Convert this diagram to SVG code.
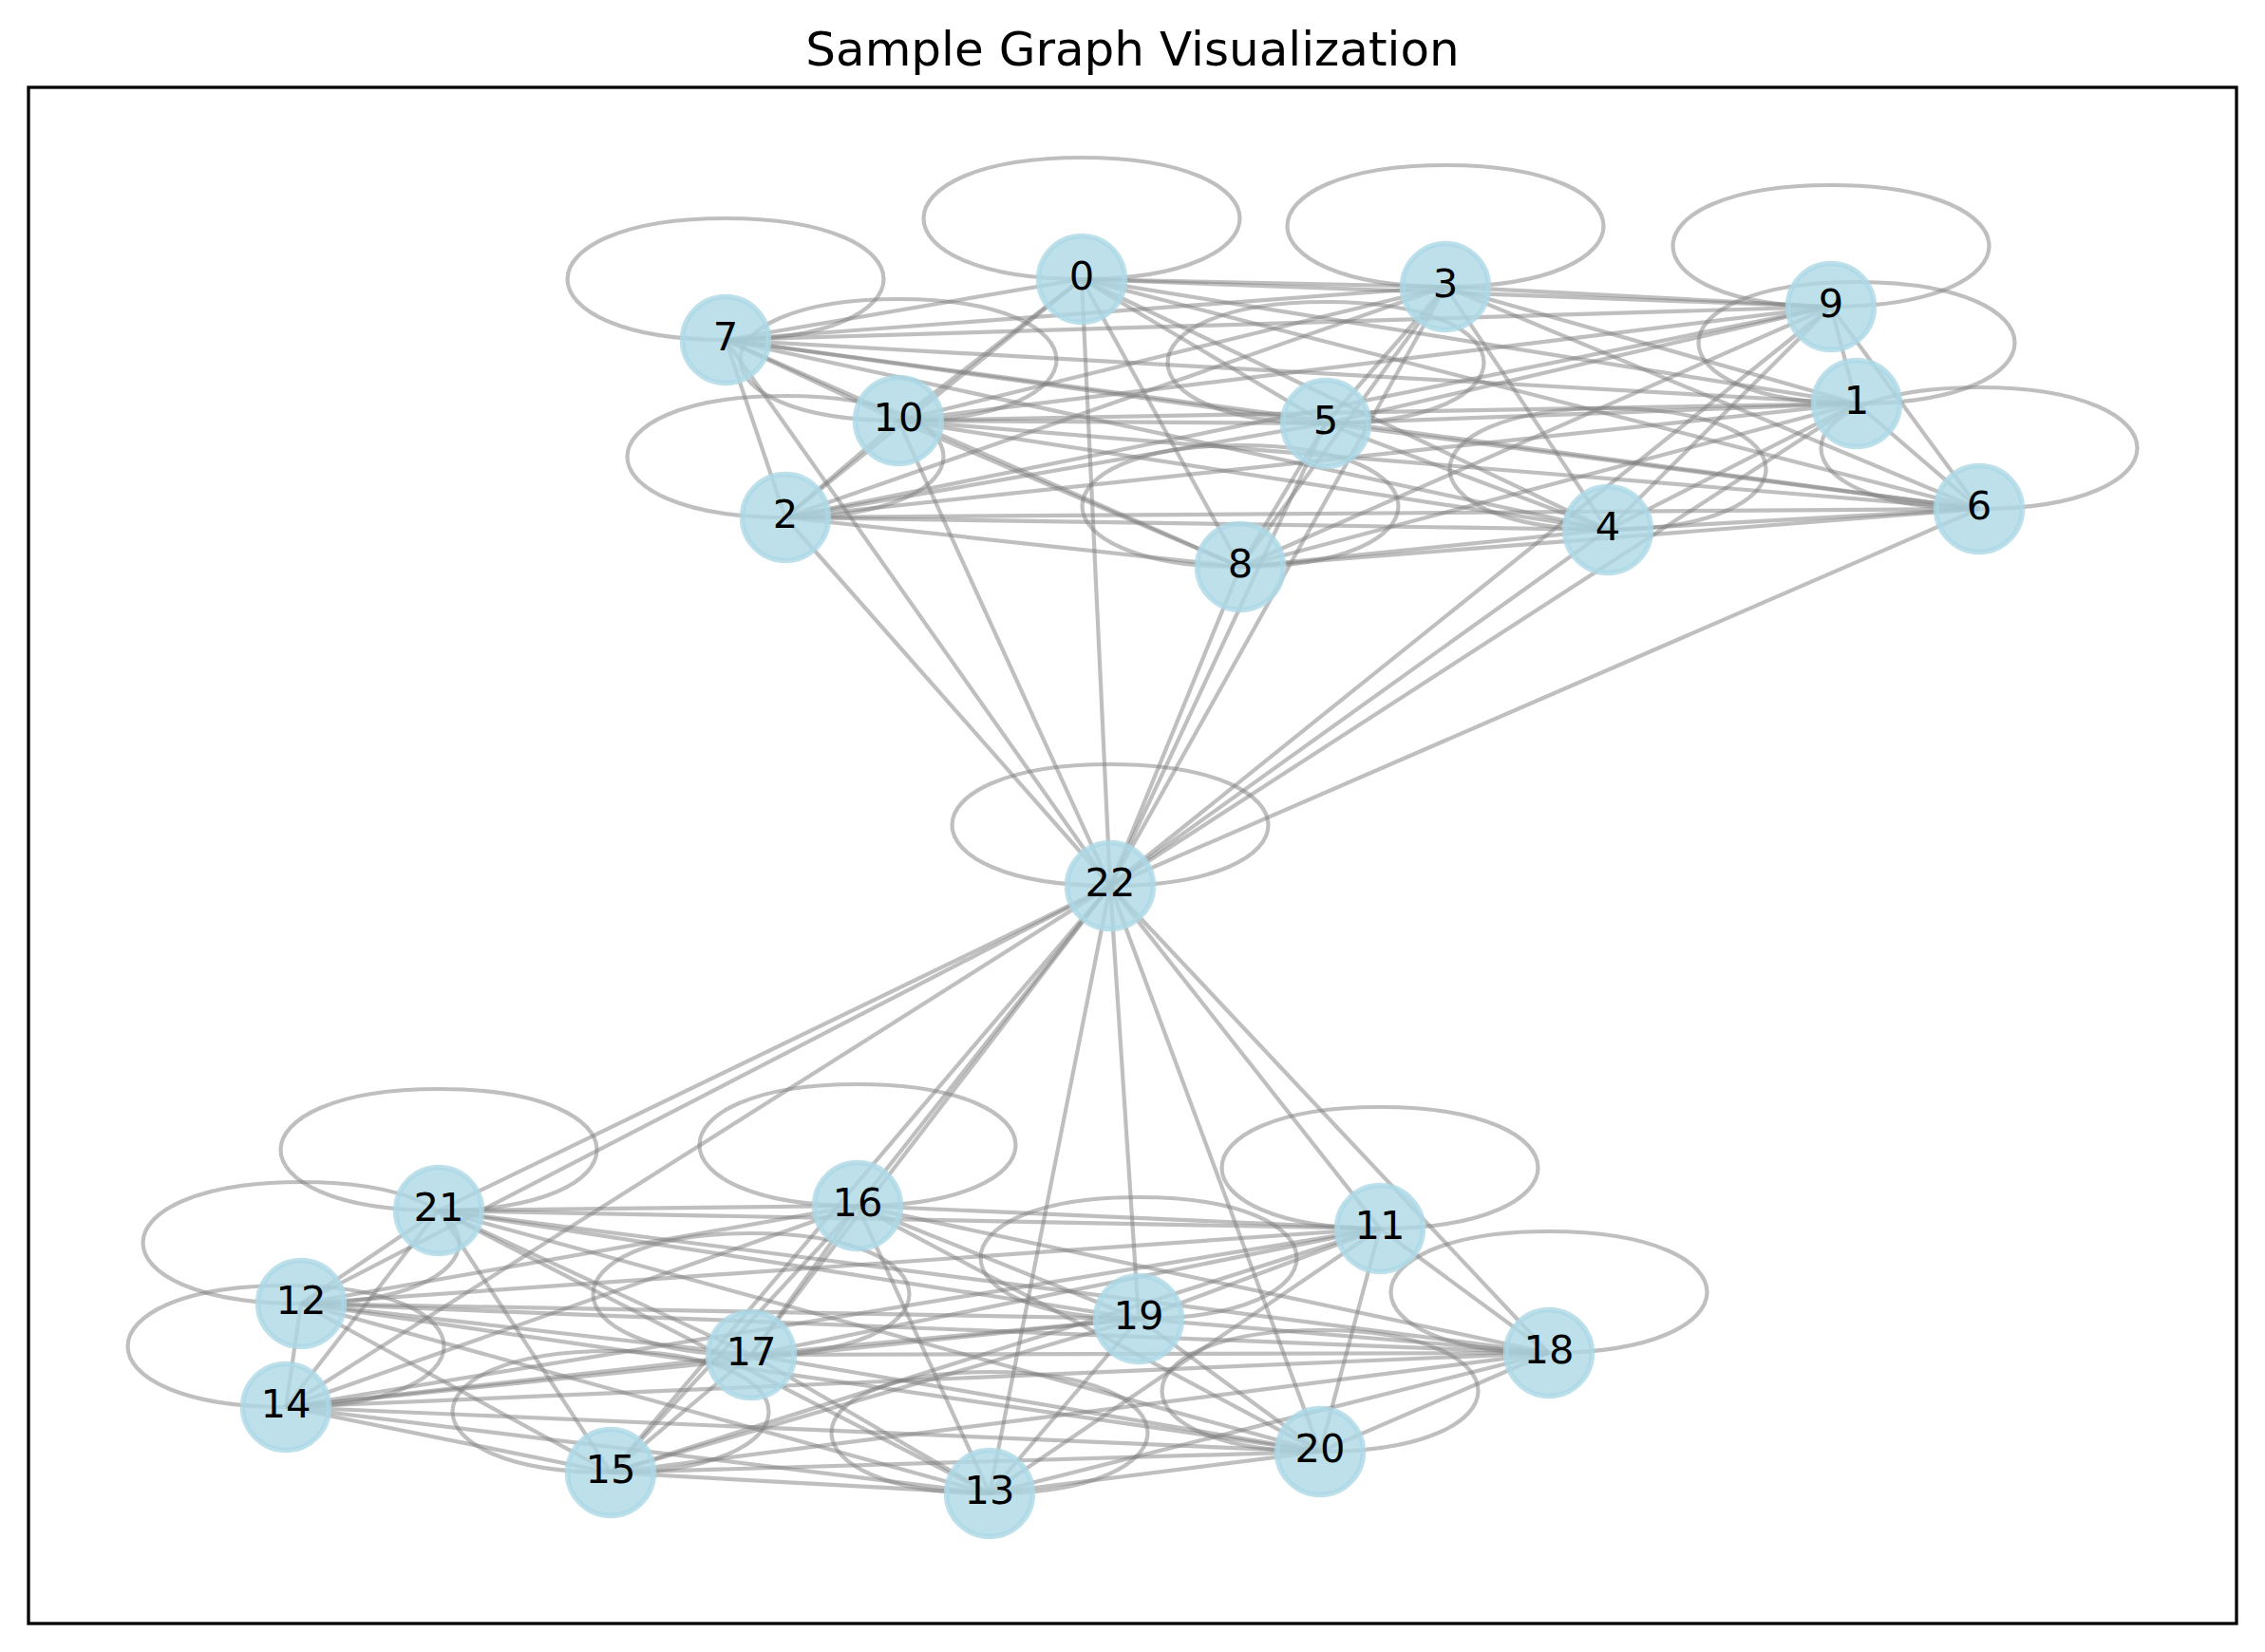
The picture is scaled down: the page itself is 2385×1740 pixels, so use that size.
<svg xmlns="http://www.w3.org/2000/svg" width="2385" height="1740" viewBox="0 0 2385 1740">
<style>
.e line{stroke:#808080;stroke-opacity:0.5;stroke-width:4.2;fill:none}
.lp path{stroke:#808080;stroke-opacity:0.5;stroke-width:4.2;fill:none}
.n circle{fill:#ADD8E6;fill-opacity:0.8;stroke:#ADD8E6;stroke-opacity:0.8;stroke-width:5.5}
.n text{font-family:"DejaVu Sans",sans-serif;font-size:41.7px;text-anchor:middle;fill:#000}
.title{font-family:"DejaVu Sans",sans-serif;font-size:50px;text-anchor:middle;fill:#000}
</style>
<rect x="0" y="0" width="2385" height="1740" fill="#fff"/>
<text class="title" x="1192.5" y="69">Sample Graph Visualization</text>
<g id="connectors">
<g class="e">
<line x1="1139" y1="294" x2="1955" y2="425"/>
<line x1="1139" y1="294" x2="827" y2="545"/>
<line x1="1139" y1="294" x2="1522" y2="302"/>
<line x1="1139" y1="294" x2="1693" y2="558"/>
<line x1="1139" y1="294" x2="1396" y2="446"/>
<line x1="1139" y1="294" x2="2084" y2="536"/>
<line x1="1139" y1="294" x2="764" y2="358"/>
<line x1="1139" y1="294" x2="1306" y2="597"/>
<line x1="1139" y1="294" x2="1928" y2="323"/>
<line x1="1139" y1="294" x2="946" y2="443"/>
<line x1="1955" y1="425" x2="827" y2="545"/>
<line x1="1955" y1="425" x2="1522" y2="302"/>
<line x1="1955" y1="425" x2="1693" y2="558"/>
<line x1="1955" y1="425" x2="1396" y2="446"/>
<line x1="1955" y1="425" x2="2084" y2="536"/>
<line x1="1955" y1="425" x2="764" y2="358"/>
<line x1="1955" y1="425" x2="1306" y2="597"/>
<line x1="1955" y1="425" x2="1928" y2="323"/>
<line x1="1955" y1="425" x2="946" y2="443"/>
<line x1="827" y1="545" x2="1522" y2="302"/>
<line x1="827" y1="545" x2="1693" y2="558"/>
<line x1="827" y1="545" x2="1396" y2="446"/>
<line x1="827" y1="545" x2="2084" y2="536"/>
<line x1="827" y1="545" x2="764" y2="358"/>
<line x1="827" y1="545" x2="1306" y2="597"/>
<line x1="827" y1="545" x2="1928" y2="323"/>
<line x1="827" y1="545" x2="946" y2="443"/>
<line x1="1522" y1="302" x2="1693" y2="558"/>
<line x1="1522" y1="302" x2="1396" y2="446"/>
<line x1="1522" y1="302" x2="2084" y2="536"/>
<line x1="1522" y1="302" x2="764" y2="358"/>
<line x1="1522" y1="302" x2="1306" y2="597"/>
<line x1="1522" y1="302" x2="1928" y2="323"/>
<line x1="1522" y1="302" x2="946" y2="443"/>
<line x1="1693" y1="558" x2="1396" y2="446"/>
<line x1="1693" y1="558" x2="2084" y2="536"/>
<line x1="1693" y1="558" x2="764" y2="358"/>
<line x1="1693" y1="558" x2="1306" y2="597"/>
<line x1="1693" y1="558" x2="1928" y2="323"/>
<line x1="1693" y1="558" x2="946" y2="443"/>
<line x1="1396" y1="446" x2="2084" y2="536"/>
<line x1="1396" y1="446" x2="764" y2="358"/>
<line x1="1396" y1="446" x2="1306" y2="597"/>
<line x1="1396" y1="446" x2="1928" y2="323"/>
<line x1="1396" y1="446" x2="946" y2="443"/>
<line x1="2084" y1="536" x2="764" y2="358"/>
<line x1="2084" y1="536" x2="1306" y2="597"/>
<line x1="2084" y1="536" x2="1928" y2="323"/>
<line x1="2084" y1="536" x2="946" y2="443"/>
<line x1="764" y1="358" x2="1306" y2="597"/>
<line x1="764" y1="358" x2="1928" y2="323"/>
<line x1="764" y1="358" x2="946" y2="443"/>
<line x1="1306" y1="597" x2="1928" y2="323"/>
<line x1="1306" y1="597" x2="946" y2="443"/>
<line x1="1928" y1="323" x2="946" y2="443"/>
<line x1="1453" y1="1294" x2="317" y2="1373"/>
<line x1="1453" y1="1294" x2="1042" y2="1573"/>
<line x1="1453" y1="1294" x2="301" y2="1482"/>
<line x1="1453" y1="1294" x2="643" y2="1551"/>
<line x1="1453" y1="1294" x2="903" y2="1270"/>
<line x1="1453" y1="1294" x2="791" y2="1427"/>
<line x1="1453" y1="1294" x2="1631" y2="1425"/>
<line x1="1453" y1="1294" x2="1199" y2="1389"/>
<line x1="1453" y1="1294" x2="1390" y2="1529"/>
<line x1="1453" y1="1294" x2="462" y2="1275"/>
<line x1="317" y1="1373" x2="1042" y2="1573"/>
<line x1="317" y1="1373" x2="301" y2="1482"/>
<line x1="317" y1="1373" x2="643" y2="1551"/>
<line x1="317" y1="1373" x2="903" y2="1270"/>
<line x1="317" y1="1373" x2="791" y2="1427"/>
<line x1="317" y1="1373" x2="1631" y2="1425"/>
<line x1="317" y1="1373" x2="1199" y2="1389"/>
<line x1="317" y1="1373" x2="1390" y2="1529"/>
<line x1="317" y1="1373" x2="462" y2="1275"/>
<line x1="1042" y1="1573" x2="301" y2="1482"/>
<line x1="1042" y1="1573" x2="643" y2="1551"/>
<line x1="1042" y1="1573" x2="903" y2="1270"/>
<line x1="1042" y1="1573" x2="791" y2="1427"/>
<line x1="1042" y1="1573" x2="1631" y2="1425"/>
<line x1="1042" y1="1573" x2="1199" y2="1389"/>
<line x1="1042" y1="1573" x2="1390" y2="1529"/>
<line x1="1042" y1="1573" x2="462" y2="1275"/>
<line x1="301" y1="1482" x2="643" y2="1551"/>
<line x1="301" y1="1482" x2="903" y2="1270"/>
<line x1="301" y1="1482" x2="791" y2="1427"/>
<line x1="301" y1="1482" x2="1631" y2="1425"/>
<line x1="301" y1="1482" x2="1199" y2="1389"/>
<line x1="301" y1="1482" x2="1390" y2="1529"/>
<line x1="301" y1="1482" x2="462" y2="1275"/>
<line x1="643" y1="1551" x2="903" y2="1270"/>
<line x1="643" y1="1551" x2="791" y2="1427"/>
<line x1="643" y1="1551" x2="1631" y2="1425"/>
<line x1="643" y1="1551" x2="1199" y2="1389"/>
<line x1="643" y1="1551" x2="1390" y2="1529"/>
<line x1="643" y1="1551" x2="462" y2="1275"/>
<line x1="903" y1="1270" x2="791" y2="1427"/>
<line x1="903" y1="1270" x2="1631" y2="1425"/>
<line x1="903" y1="1270" x2="1199" y2="1389"/>
<line x1="903" y1="1270" x2="1390" y2="1529"/>
<line x1="903" y1="1270" x2="462" y2="1275"/>
<line x1="791" y1="1427" x2="1631" y2="1425"/>
<line x1="791" y1="1427" x2="1199" y2="1389"/>
<line x1="791" y1="1427" x2="1390" y2="1529"/>
<line x1="791" y1="1427" x2="462" y2="1275"/>
<line x1="1631" y1="1425" x2="1199" y2="1389"/>
<line x1="1631" y1="1425" x2="1390" y2="1529"/>
<line x1="1631" y1="1425" x2="462" y2="1275"/>
<line x1="1199" y1="1389" x2="1390" y2="1529"/>
<line x1="1199" y1="1389" x2="462" y2="1275"/>
<line x1="1390" y1="1529" x2="462" y2="1275"/>
<line x1="1169" y1="933" x2="1139" y2="294"/>
<line x1="1169" y1="933" x2="1955" y2="425"/>
<line x1="1169" y1="933" x2="827" y2="545"/>
<line x1="1169" y1="933" x2="1522" y2="302"/>
<line x1="1169" y1="933" x2="1693" y2="558"/>
<line x1="1169" y1="933" x2="1396" y2="446"/>
<line x1="1169" y1="933" x2="2084" y2="536"/>
<line x1="1169" y1="933" x2="764" y2="358"/>
<line x1="1169" y1="933" x2="1306" y2="597"/>
<line x1="1169" y1="933" x2="1928" y2="323"/>
<line x1="1169" y1="933" x2="946" y2="443"/>
<line x1="1169" y1="933" x2="1453" y2="1294"/>
<line x1="1169" y1="933" x2="317" y2="1373"/>
<line x1="1169" y1="933" x2="1042" y2="1573"/>
<line x1="1169" y1="933" x2="301" y2="1482"/>
<line x1="1169" y1="933" x2="643" y2="1551"/>
<line x1="1169" y1="933" x2="903" y2="1270"/>
<line x1="1169" y1="933" x2="791" y2="1427"/>
<line x1="1169" y1="933" x2="1631" y2="1425"/>
<line x1="1169" y1="933" x2="1199" y2="1389"/>
<line x1="1169" y1="933" x2="1390" y2="1529"/>
<line x1="1169" y1="933" x2="462" y2="1275"/>
</g>
<g class="lp">
<path d="M1139,166 C1361,166 1361,294 1139,294 C917,294 917,166 1139,166"/>
<path d="M1955,297 C2177,297 2177,425 1955,425 C1733,425 1733,297 1955,297"/>
<path d="M827,417 C1049,417 1049,545 827,545 C605,545 605,417 827,417"/>
<path d="M1522,174 C1744,174 1744,302 1522,302 C1300,302 1300,174 1522,174"/>
<path d="M1693,430 C1915,430 1915,558 1693,558 C1471,558 1471,430 1693,430"/>
<path d="M1396,318 C1618,318 1618,446 1396,446 C1174,446 1174,318 1396,318"/>
<path d="M2084,408 C2306,408 2306,536 2084,536 C1862,536 1862,408 2084,408"/>
<path d="M764,230 C986,230 986,358 764,358 C542,358 542,230 764,230"/>
<path d="M1306,469 C1528,469 1528,597 1306,597 C1084,597 1084,469 1306,469"/>
<path d="M1928,195 C2150,195 2150,323 1928,323 C1706,323 1706,195 1928,195"/>
<path d="M946,315 C1168,315 1168,443 946,443 C724,443 724,315 946,315"/>
<path d="M1453,1166 C1675,1166 1675,1294 1453,1294 C1231,1294 1231,1166 1453,1166"/>
<path d="M317,1245 C539,1245 539,1373 317,1373 C95,1373 95,1245 317,1245"/>
<path d="M1042,1445 C1264,1445 1264,1573 1042,1573 C820,1573 820,1445 1042,1445"/>
<path d="M301,1354 C523,1354 523,1482 301,1482 C79,1482 79,1354 301,1354"/>
<path d="M643,1423 C865,1423 865,1551 643,1551 C421,1551 421,1423 643,1423"/>
<path d="M903,1142 C1125,1142 1125,1270 903,1270 C681,1270 681,1142 903,1142"/>
<path d="M791,1299 C1013,1299 1013,1427 791,1427 C569,1427 569,1299 791,1299"/>
<path d="M1631,1297 C1853,1297 1853,1425 1631,1425 C1409,1425 1409,1297 1631,1297"/>
<path d="M1199,1261 C1421,1261 1421,1389 1199,1389 C977,1389 977,1261 1199,1261"/>
<path d="M1390,1401 C1612,1401 1612,1529 1390,1529 C1168,1529 1168,1401 1390,1401"/>
<path d="M462,1147 C684,1147 684,1275 462,1275 C240,1275 240,1147 462,1147"/>
<path d="M1169,805 C1391,805 1391,933 1169,933 C947,933 947,805 1169,805"/>
</g>
</g>
<g id="node-0" class="n"><circle cx="1139" cy="294" r="45.5"/><text x="1139" y="305">0</text></g>
<g id="node-1" class="n"><circle cx="1955" cy="425" r="45.5"/><text x="1955" y="436">1</text></g>
<g id="node-2" class="n"><circle cx="827" cy="545" r="45.5"/><text x="827" y="556">2</text></g>
<g id="node-3" class="n"><circle cx="1522" cy="302" r="45.5"/><text x="1522" y="313">3</text></g>
<g id="node-4" class="n"><circle cx="1693" cy="558" r="45.5"/><text x="1693" y="569">4</text></g>
<g id="node-5" class="n"><circle cx="1396" cy="446" r="45.5"/><text x="1396" y="457">5</text></g>
<g id="node-6" class="n"><circle cx="2084" cy="536" r="45.5"/><text x="2084" y="547">6</text></g>
<g id="node-7" class="n"><circle cx="764" cy="358" r="45.5"/><text x="764" y="369">7</text></g>
<g id="node-8" class="n"><circle cx="1306" cy="597" r="45.5"/><text x="1306" y="608">8</text></g>
<g id="node-9" class="n"><circle cx="1928" cy="323" r="45.5"/><text x="1928" y="334">9</text></g>
<g id="node-10" class="n"><circle cx="946" cy="443" r="45.5"/><text x="946" y="454">10</text></g>
<g id="node-11" class="n"><circle cx="1453" cy="1294" r="45.5"/><text x="1453" y="1305">11</text></g>
<g id="node-12" class="n"><circle cx="317" cy="1373" r="45.5"/><text x="317" y="1384">12</text></g>
<g id="node-13" class="n"><circle cx="1042" cy="1573" r="45.5"/><text x="1042" y="1584">13</text></g>
<g id="node-14" class="n"><circle cx="301" cy="1482" r="45.5"/><text x="301" y="1493">14</text></g>
<g id="node-15" class="n"><circle cx="643" cy="1551" r="45.5"/><text x="643" y="1562">15</text></g>
<g id="node-16" class="n"><circle cx="903" cy="1270" r="45.5"/><text x="903" y="1281">16</text></g>
<g id="node-17" class="n"><circle cx="791" cy="1427" r="45.5"/><text x="791" y="1438">17</text></g>
<g id="node-18" class="n"><circle cx="1631" cy="1425" r="45.5"/><text x="1631" y="1436">18</text></g>
<g id="node-19" class="n"><circle cx="1199" cy="1389" r="45.5"/><text x="1199" y="1400">19</text></g>
<g id="node-20" class="n"><circle cx="1390" cy="1529" r="45.5"/><text x="1390" y="1540">20</text></g>
<g id="node-21" class="n"><circle cx="462" cy="1275" r="45.5"/><text x="462" y="1286">21</text></g>
<g id="node-22" class="n"><circle cx="1169" cy="933" r="45.5"/><text x="1169" y="944">22</text></g>
<rect x="30" y="92" width="2325" height="1618" fill="none" stroke="#000" stroke-width="3.3"/>
</svg>
